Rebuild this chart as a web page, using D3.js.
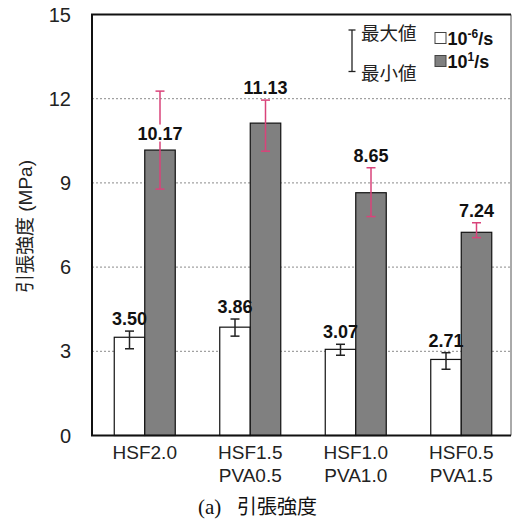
<!DOCTYPE html>
<html lang="ja">
<head>
  <meta charset="UTF-8" />
  <title>引張強度</title>
  <style>
    body { margin: 0; background: #fff; font-family: "Liberation Sans", Arial, sans-serif; }
    .jp { font-family: "Noto Sans CJK JP", sans-serif; }
  </style>
</head>
<body>
  <div id="chart"></div>
  <script src="https://d3js.org/d3.v7.min.js"></script>
  <script>
    const categories = [["HSF2.0"], ["HSF1.5", "PVA0.5"], ["HSF1.0", "PVA1.0"], ["HSF0.5", "PVA1.5"]];
    const series = ["10-6/s", "101/s"];
    const slowMean = [3.50, 3.86, 3.07, 2.71];
    const slowMax  = [3.72, 4.15, 3.25, 2.95];
    const slowMin  = [3.09, 3.54, 2.86, 2.36];
    const fastMean = [10.17, 11.13, 8.65, 7.24];
    const fastMax  = [12.27, 11.95, 9.54, 7.58];
    const fastMin  = [8.78, 10.13, 7.80, 7.05];
    const yTicks = [0, 3, 6, 9, 12, 15];

    const W = 513, H = 521;
    const plot = { left: 92, right: 511, top: 14.5, bottom: 435.5 };

    const svg = d3.select("#chart").append("svg")
      .attr("width", W).attr("height", H);

    const y = d3.scaleLinear().domain([0, 15]).range([plot.bottom, plot.top]);
    const x = d3.scaleBand().domain(d3.range(categories.length))
      .range([plot.left, plot.left + 4 * 105.5]);
    const sub = d3.scaleBand().domain(series).range([0, 61]);
    const groupX = i => x(i) + x.bandwidth() / 2 - 30.5;

    // gridlines
    svg.append("g").selectAll("line")
      .data(yTicks.filter(t => t > 0 && t < 15))
      .enter().append("line")
      .attr("x1", plot.left).attr("x2", plot.right)
      .attr("y1", d => y(d)).attr("y2", d => y(d))
      .attr("stroke", "#8a8a8a").attr("stroke-width", 1)
      .attr("stroke-dasharray", "2,2");

    // y tick labels
    svg.append("g").selectAll("text")
      .data(yTicks).enter().append("text")
      .attr("x", 71).attr("y", d => y(d) + 7)
      .attr("text-anchor", "end")
      .attr("font-size", "20px").attr("fill", "#222")
      .text(d => d);

    // data rows
    const rows = [];
    categories.forEach((c, i) => {
      rows.push({ i, s: series[0], mean: slowMean[i], max: slowMax[i], min: slowMin[i], fill: "#fff", err: "#222" });
      rows.push({ i, s: series[1], mean: fastMean[i], max: fastMax[i], min: fastMin[i], fill: "#808080", err: "#d9437a" });
    });

    // bars
    svg.append("g").selectAll("rect")
      .data(rows).enter().append("rect")
      .attr("x", d => groupX(d.i) + sub(d.s))
      .attr("y", d => y(d.mean))
      .attr("width", sub.bandwidth())
      .attr("height", d => y(0) - y(d.mean))
      .attr("fill", d => d.fill)
      .attr("stroke", "#111").attr("stroke-width", 1.2);

    // error bars
    const eb = svg.append("g").selectAll("g")
      .data(rows).enter().append("g")
      .attr("stroke", d => d.err).attr("stroke-width", 1.5);
    const cx = d => groupX(d.i) + sub(d.s) + sub.bandwidth() / 2;
    eb.append("line")
      .attr("x1", cx).attr("x2", cx)
      .attr("y1", d => y(d.max)).attr("y2", d => y(d.min));
    eb.append("line")
      .attr("x1", d => cx(d) - 4.5).attr("x2", d => cx(d) + 4.5)
      .attr("y1", d => y(d.max)).attr("y2", d => y(d.max));
    eb.append("line")
      .attr("x1", d => cx(d) - 4.5).attr("x2", d => cx(d) + 4.5)
      .attr("y1", d => y(d.min)).attr("y2", d => y(d.min));

    // value labels (first fast bar label sits over its error bar)
    const onBar = r => r.i === 0 && r.s === series[1];
    const vl = svg.append("g").selectAll("g")
      .data(rows).enter().append("g")
      .attr("transform", d => {
        const cy = onBar(d) ? y(d.mean) - 17 : y(d.max) - 12.5;
        return `translate(${cx(d)},${cy})`;
      });
    vl.filter(onBar).append("rect")
      .attr("x", -25).attr("y", -8.5).attr("width", 50).attr("height", 17)
      .attr("fill", "#fff");
    vl.append("text")
      .attr("y", 6.5)
      .attr("text-anchor", "middle")
      .attr("font-size", "18px").attr("font-weight", "bold").attr("fill", "#111")
      .text(d => d.mean.toFixed(2));

    // frame
    svg.append("line").attr("x1", plot.right).attr("x2", plot.right)
      .attr("y1", plot.top).attr("y2", plot.bottom)
      .attr("stroke", "#555").attr("stroke-width", 1);
    svg.append("path")
      .attr("d", `M${plot.right},${plot.top}H${plot.left}V${plot.bottom}H${plot.right}`)
      .attr("fill", "none").attr("stroke", "#111").attr("stroke-width", 2);

    // x labels
    const xl = svg.append("g").selectAll("text")
      .data(categories).enter().append("text")
      .attr("x", (d, i) => x(i) + x.bandwidth() / 2)
      .attr("y", 458.5)
      .attr("text-anchor", "middle")
      .attr("font-size", "19px").attr("fill", "#222");
    xl.selectAll("tspan").data(d => d).enter().append("tspan")
      .attr("x", function () { return d3.select(this.parentNode).attr("x"); })
      .attr("dy", (d, j) => j === 0 ? 0 : 23.5)
      .text(d => d);

    // y title
    const yt = svg.append("text")
      .attr("transform", "translate(32,226.5) rotate(-90)")
      .attr("text-anchor", "middle")
      .attr("font-size", "19px").attr("fill", "#222");
    yt.append("tspan").attr("class", "jp").text("引張強度");
    yt.append("tspan").text(" (MPa)");

    // caption
    svg.append("text")
      .attr("x", 198).attr("y", 514)
      .attr("font-family", "'Liberation Serif', serif")
      .attr("font-size", "21px").attr("fill", "#111")
      .text("(a)");
    svg.append("text").attr("class", "jp")
      .attr("x", 237).attr("y", 514)
      .attr("font-size", "20px").attr("fill", "#111")
      .text("引張強度");

    // legend: error bar meaning
    const lg = svg.append("g").attr("stroke", "#222").attr("stroke-width", 1.3);
    lg.append("line").attr("x1", 352).attr("x2", 352).attr("y1", 30).attr("y2", 71.5);
    lg.append("line").attr("x1", 348.5).attr("x2", 355.5).attr("y1", 30).attr("y2", 30);
    lg.append("line").attr("x1", 348.5).attr("x2", 355.5).attr("y1", 71.5).attr("y2", 71.5);
    svg.append("text").attr("class", "jp").attr("x", 361).attr("y", 40)
      .attr("font-size", "18.5px").attr("fill", "#222").text("最大値");
    svg.append("text").attr("class", "jp").attr("x", 361).attr("y", 80)
      .attr("font-size", "18.5px").attr("fill", "#222").text("最小値");

    // legend: series
    const leg = svg.append("g").selectAll("g")
      .data(series).enter().append("g")
      .attr("transform", (d, i) => `translate(435,${32.5 + i * 23})`);
    leg.append("rect")
      .attr("width", 11).attr("height", 11)
      .attr("fill", (d, i) => i === 0 ? "#fff" : "#808080")
      .attr("stroke", "#444").attr("stroke-width", 1);
    const lt = leg.append("text")
      .attr("x", 12.5).attr("y", 12)
      .attr("font-size", "18px").attr("font-weight", "bold").attr("fill", "#111");
    lt.append("tspan").text("10");
    lt.append("tspan").attr("dy", -7).attr("font-size", "12px").text((d, i) => i === 0 ? "-6" : "1");
    lt.append("tspan").attr("dy", 7).text("/s");
  </script>
</body>
</html>
